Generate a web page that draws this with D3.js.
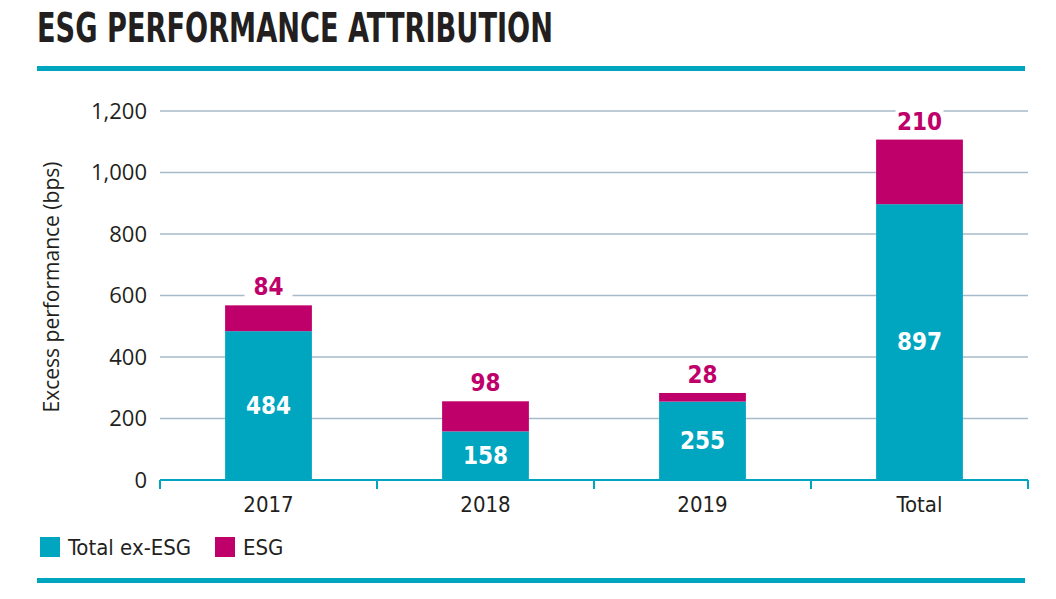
<!DOCTYPE html>
<html><head><meta charset="utf-8">
<script src="https://cdn.jsdelivr.net/npm/d3@7"></script>
<style>
body{margin:0;background:#fff;}
svg{display:block;}
</style></head>
<body><svg id="c" width="1056" height="599"></svg>
<script>
const categories = ["2017","2018","2019","Total"];
const exEsg = [484,158,255,897];
const esg = [84,98,28,210];
const yTicks = [0,200,400,600,800,1000,1200];
const seriesNames = ["Total ex-ESG","ESG"];

const TEAL = "#00a6bf", MAG = "#c0006a", DARK = "#231f20", GRID = "#a7bac9";
const COND = "'Liberation Sans Narrow','DejaVu Sans Condensed','Roboto Condensed',sans-serif";
const SANS = "'Open Sans','Noto Sans',sans-serif";

const svg = d3.select("#c");
const L = 160, R = 1028, T = 111, B = 480;

const x = d3.scaleBand().domain(categories).range([L, R]).paddingInner(0.6).paddingOuter(0.3);
const xb = d3.scaleBand().domain(categories).range([L, R]).padding(0);
const y = d3.scaleLinear().domain([0,1200]).range([B, T]);

// title
svg.append("text").attr("x",37).attr("y",42).text("ESG PERFORMANCE ATTRIBUTION")
  .attr("font-family",COND).attr("font-weight","bold").attr("font-size",40).attr("fill",DARK)
  .attr("textLength",516).attr("lengthAdjust","spacingAndGlyphs");
svg.append("rect").attr("x",37).attr("y",66).attr("width",988).attr("height",5).attr("fill",TEAL);
svg.append("rect").attr("x",37).attr("y",578).attr("width",988).attr("height",5).attr("fill",TEAL);

// grid
svg.append("g").selectAll("line").data(yTicks.filter(d=>d>0)).join("line")
  .attr("x1",L).attr("x2",R).attr("y1",d=>y(d)).attr("y2",d=>y(d))
  .attr("stroke",GRID).attr("stroke-width",1.5);

// y axis labels
const yAxis = d3.axisLeft(y).tickValues(yTicks).tickSize(0).tickPadding(13).tickFormat(d3.format(","));
const gy = svg.append("g").attr("transform",`translate(${L},0)`).call(yAxis);
gy.select(".domain").remove();
gy.selectAll("text").attr("font-family",SANS).attr("font-size",22).attr("fill",DARK);

svg.append("text").attr("transform",`translate(59,287) rotate(-90)`).attr("text-anchor","middle")
  .text("Excess performance (bps)").attr("font-family",SANS).attr("font-size",21).attr("fill",DARK);

// bars
const data = categories.map((c,i)=>({c, a:exEsg[i], b:esg[i]}));
svg.append("g").selectAll("rect").data(data).join("rect")
  .attr("x",d=>x(d.c)).attr("width",x.bandwidth()).attr("y",d=>y(d.a)).attr("height",d=>B-y(d.a)).attr("fill",TEAL);
svg.append("g").selectAll("rect").data(data).join("rect")
  .attr("x",d=>x(d.c)).attr("width",x.bandwidth()).attr("y",d=>y(d.a+d.b)).attr("height",d=>y(d.a)-y(d.a+d.b)).attr("fill",MAG);

// x axis
const xAxis = d3.axisBottom(xb).tickSize(0).tickPadding(16);
const gx = svg.append("g").attr("transform",`translate(0,${B})`).call(xAxis);
gx.select(".domain").attr("stroke",TEAL).attr("stroke-width",2).attr("d",`M${L},0H${R}`);
gx.selectAll("text").attr("font-family",COND).attr("font-size",22).attr("fill",DARK);
svg.append("g").selectAll("line").data(categories.map(c=>xb(c)).concat([R])).join("line")
  .attr("x1",d=>d).attr("x2",d=>d).attr("y1",B).attr("y2",B+9).attr("stroke",TEAL).attr("stroke-width",2);

// ESG labels with white background
const lab = svg.append("g").selectAll("g").data(data).join("g")
  .attr("transform",d=>`translate(${x(d.c)+x.bandwidth()/2},${y(d.a+d.b)-10})`);
lab.append("rect").attr("x",-24).attr("y",-20).attr("width",48).attr("height",24).attr("fill","#fff");
lab.append("text").attr("text-anchor","middle").text(d=>d.b)
  .attr("font-family",COND).attr("font-weight","bold").attr("font-size",24).attr("fill",MAG);

// ex-ESG labels inside
svg.append("g").selectAll("text").data(data).join("text")
  .attr("x",d=>x(d.c)+x.bandwidth()/2).attr("y",d=>(y(d.a)+B)/2).attr("dy","0.35em")
  .attr("text-anchor","middle").text(d=>d.a)
  .attr("font-family",COND).attr("font-weight","bold").attr("font-size",24).attr("fill","#fff");

// legend
const leg = svg.append("g").attr("transform","translate(40,537)");
const li = leg.selectAll("g").data(seriesNames).join("g").attr("transform",(d,i)=>`translate(${i*175},0)`);
li.append("rect").attr("width",20).attr("height",20).attr("fill",(d,i)=>i?MAG:TEAL);
li.append("text").attr("x",28).attr("y",18).text(d=>d)
  .attr("font-family",COND).attr("font-size",22).attr("fill",DARK);
</script></body></html>
